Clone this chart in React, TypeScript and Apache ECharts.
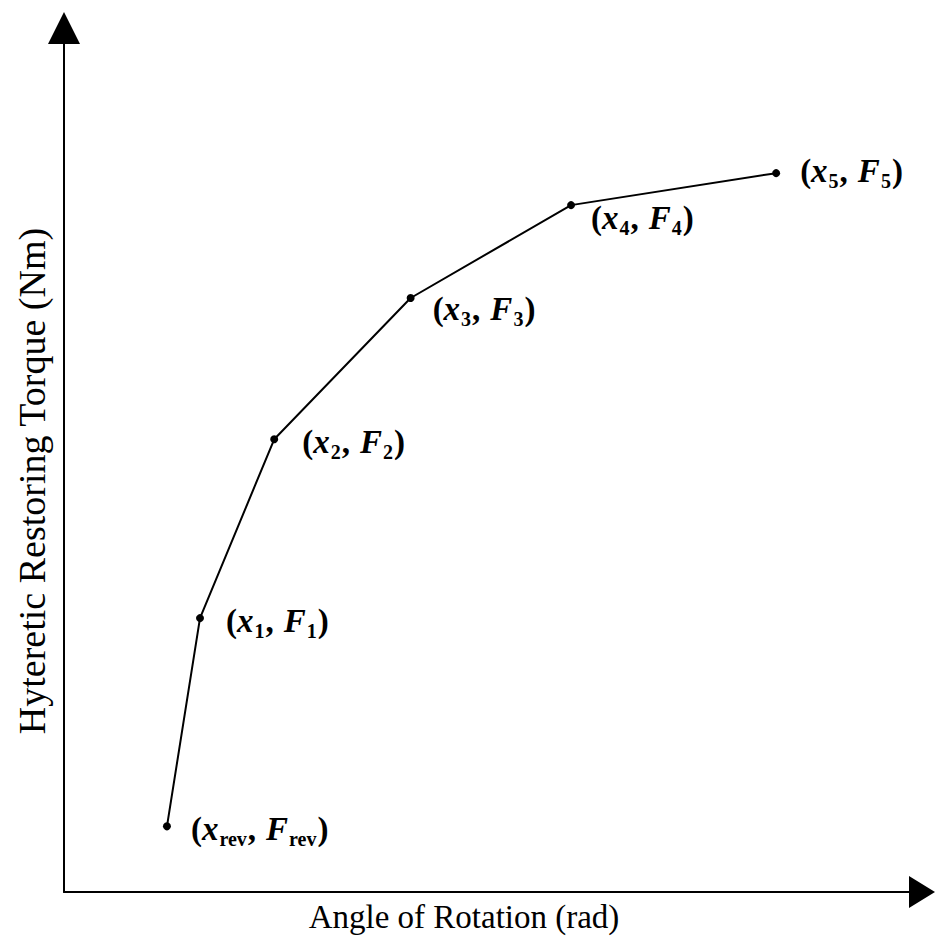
import React, { useEffect, useRef } from "react";
import * as echarts from "echarts";

const pointNames = ["rev", "1", "2", "3", "4", "5"];
const xValues = [12.0, 15.85, 24.5, 40.4, 59.1, 83.0];
const yValues = [7.6, 31.7, 52.4, 68.75, 79.5, 83.2];
const labelOffsets: [number, number][] = [
  [20, 3],
  [22, 3],
  [24, 3],
  [18, 11],
  [16, 13],
  [20, -2],
];
const xTitle = "Angle of Rotation (rad)";
const yTitle = "Hyteretic Restoring Torque (Nm)";

const FONT = "'Liberation Serif', 'Times New Roman', serif";

export default function App() {
  const ref = useRef<HTMLDivElement>(null);
  useEffect(() => {
    if (!ref.current) return;
    const chart = echarts.init(ref.current, undefined, { renderer: "svg" });
    const data = xValues.map((x, i) => ({
      value: [x, yValues[i]],
      label: {
        show: true,
        position: "right",
        offset: labelOffsets[i],
        distance: 0,
        formatter: `{p|(}{x|x}{s|${pointNames[i]}}{c|,}{x|F}{s|${pointNames[i]}}{p|)}`,
        rich: {
          p: { fontFamily: FONT, fontSize: 33, fontWeight: "bold", color: "#000" },
          c: { fontFamily: FONT, fontSize: 33, fontWeight: "bold", color: "#000", padding: [0, 10, 0, 0] },
          x: { fontFamily: FONT, fontSize: 33, fontWeight: "bold", fontStyle: "italic", color: "#000", padding: [0, 1, 0, 0] },
          s: { fontFamily: FONT, fontSize: 20, fontWeight: "bold", color: "#000", padding: [20, 1, 0, 0] },
        },
      },
    }));
    chart.setOption({
      animation: false,
      backgroundColor: "#fff",
      grid: { left: 64, top: 28, right: 13, bottom: 50 },
      xAxis: {
        type: "value",
        min: 0,
        max: 100,
        axisLine: { show: true, lineStyle: { color: "#000", width: 2 }, symbol: ["none", "triangle"], symbolSize: [32, 26] },
        axisTick: { show: false },
        axisLabel: { show: false },
        splitLine: { show: false },
      },
      yAxis: {
        type: "value",
        min: 0,
        max: 100,
        axisLine: { show: true, lineStyle: { color: "#000", width: 2 }, symbol: ["none", "triangle"], symbolSize: [32, 32] },
        axisTick: { show: false },
        axisLabel: { show: false },
        splitLine: { show: false },
      },
      series: [
        {
          type: "line",
          data,
          symbol: "circle",
          symbolSize: 8,
          itemStyle: { color: "#000" },
          lineStyle: { color: "#000", width: 2 },
        },
      ],
      graphic: [
        {
          type: "text",
          x: 464,
          y: 917,
          style: { text: xTitle, font: `33px ${FONT}`, fill: "#000", align: "center", verticalAlign: "middle" },
        },
        {
          type: "text",
          x: 32,
          y: 481,
          rotation: Math.PI / 2,
          style: { text: yTitle, font: `38px ${FONT}`, fill: "#000", align: "center", verticalAlign: "middle" },
        },
      ],
    });
    return () => chart.dispose();
  }, []);
  return <div ref={ref} style={{ position: "absolute", left: 0, top: 0, width: 935, height: 942 }} />;
}
